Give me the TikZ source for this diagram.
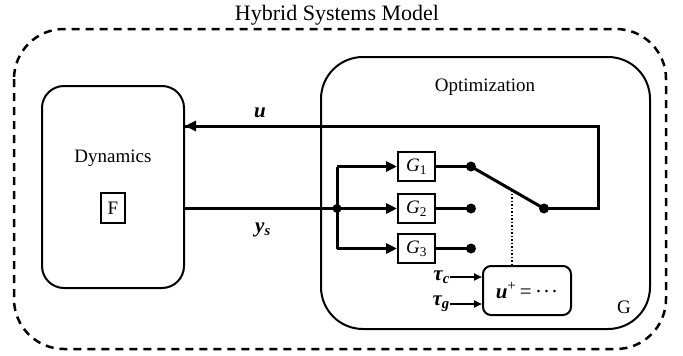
\documentclass[tikz,border=0pt]{standalone}
\usepackage{fontspec}
\setmainfont{Liberation Serif}
\usetikzlibrary{arrows.meta,calc}

% symbols are set in the text face: bold italic vectors, italic blocks
\newcommand{\vect}[1]{{\bfseries\itshape #1}}
\newcommand{\vsub}[2]{\vect{#1}\textsubscript{\vect{#2}}}

\tikzset{
  panel/.style={draw, line width=2pt, rounded corners=#1, inner sep=0pt},
  block/.style={draw, line width=2pt, inner sep=0pt, minimum width=37pt, minimum height=29pt,
                font=\fontsize{19}{22}\selectfont},
  wire/.style={line width=3pt},
  flow/.style={wire, -{Triangle[length=11pt,width=10pt]}},
  smallflow/.style={line width=2pt, -{Triangle[length=8pt,width=7pt]}},
  dot/.style={circle, fill, inner sep=0pt, minimum size=#1},
  txt/.style={font=\fontsize{19}{22}\selectfont, inner sep=0pt},
  sym/.style={font=\fontsize{21}{24}\selectfont, inner sep=0pt},
}

\begin{document}
\begin{tikzpicture}[x=1pt, y=-1pt]
\useasboundingbox (0,0) rectangle (683,356);

% outer hybrid model boundary
\draw[line width=2.5pt, dash pattern=on 8pt off 6pt, rounded corners=50pt]
  (14,29) rectangle (666,349);
\node[font=\fontsize{22}{25}\selectfont, inner sep=0pt] (title) at (337,15) {Hybrid Systems Model};

% plant side
\node[panel=22pt, minimum width=142pt, minimum height=202pt] (dyn) at (113,187) {};
\node[txt] (dynlbl) at (113,158) {Dynamics};
\node[draw, line width=2pt, minimum width=24pt, minimum height=30pt, inner sep=0pt,
      font=\fontsize{19}{22}\selectfont] (F) at (113,208) {F};

% controller side
\node[panel=42pt, minimum width=329pt, minimum height=272pt] (opt) at (485.5,193) {};
\node[txt] (optlbl) at (485,87) {Optimization};
\node[txt] (glbl) at (624,307) {G};

% candidate controllers
\node[block] (g1) at (416.5,166.5) {\textit{G}\textsubscript{1}};
\node[block] (g2) at (416.5,208.5) {\textit{G}\textsubscript{2}};
\node[block] (g3) at (416.5,248.5) {\textit{G}\textsubscript{3}};

% junction, switch contacts and pivot
\node[dot=9pt] (j)  at (337,208.5) {};
\node[dot=10pt] (d1) at (471,166.5) {};
\node[dot=10pt] (d2) at (471,208.5) {};
\node[dot=10pt] (d3) at (471,248.5) {};
\node[dot=10pt] (s)  at (544,208.5) {};
\coordinate (ret) at (598,126);

% update law block
\node[panel=8pt, minimum width=88pt, minimum height=49pt, sym] (up) at (527,290.5)
  {\vect{u}\textsuperscript{+}\,=\,·\kern1pt·\kern1pt·};
\node[sym, anchor=east] (tc) at (450,277) {\vsub{τ}{c}};
\node[sym, anchor=east] (tg) at (450,304) {\vsub{τ}{g}};

% measured output to the controller bank
\draw[wire] (dyn.east |- j) -- (j.center);
\draw[wire] (j.center |- g1) -- (j.center |- g3);
\draw[flow] (j.center |- g1) -- (g1.west);
\draw[flow] (j.center) -- (g2.west);
\draw[flow] (j.center |- g3) -- (g3.west);
\draw[wire] (g1.east) -- (d1.center);
\draw[wire] (g2.east) -- (d2.center);
\draw[wire] (g3.east) -- (d3.center);

% switch arm and control input back to the plant
\draw[wire] (d1.center) -- (s.center);
\draw[wire, line join=miter] (s.center) -| (ret) -- (ret -| dyn.east);
\draw[flow] (ret) -- (ret -| dyn.east);

% the update law drives the switch
\coordinate (arm) at ($(d1.center)!0.56!(s.center)$);
\draw[line width=1.5pt, dotted] (arm) -- (arm |- up.north);

% timer inputs
\draw[smallflow] (tc.east) -- (tc.east -| up.west);
\draw[smallflow] (tg.east) -- (tg.east -| up.west);

% signal labels
\node[sym] (ulbl) at (260,113) {\vect{u}};
\node[sym] (ylbl) at (263,230) {\vsub{y}{s}};
\end{tikzpicture}
\end{document}
